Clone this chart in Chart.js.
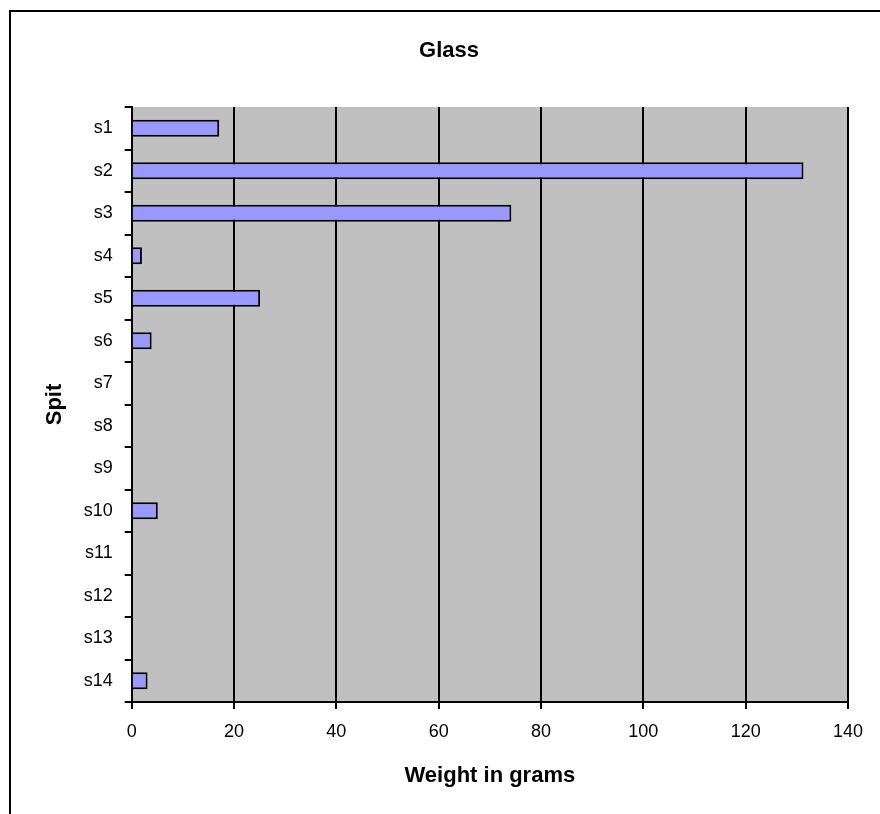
<!DOCTYPE html>
<html>
<head>
<meta charset="utf-8">
<script src="https://cdn.jsdelivr.net/npm/chart.js@4/dist/chart.umd.min.js"></script>
<style>
html,body{margin:0;padding:0;background:#fff;}
#wrap{position:relative;width:880px;height:814px;}
</style>
</head>
<body>
<div id="wrap"><canvas id="c" width="880" height="814"></canvas></div>
<script>
const categories = ["s1","s2","s3","s4","s5","s6","s7","s8","s9","s10","s11","s12","s13","s14"];
const weights = [17.1, 131.3, 74.2, 2, 25.1, 3.9, null, null, null, 5.1, null, null, null, 3.1];
const xTicks = [0, 20, 40, 60, 80, 100, 120, 140];
const chartTitle = "Glass";
const xTitle = "Weight in grams";
const yTitle = "Spit";

const FONT = "'Liberation Sans', Arial, sans-serif";

const framePlugin = {
  id: 'frame',
  beforeDraw(chart) {
    const ctx = chart.ctx;
    const a = chart.chartArea;
    ctx.save();
    ctx.fillStyle = '#fff';
    ctx.fillRect(0, 0, chart.width, chart.height);
    ctx.strokeStyle = '#000';
    ctx.lineWidth = 2;
    ctx.strokeRect(10, 11, 900, 900);
    ctx.fillStyle = '#C0C0C0';
    ctx.fillRect(a.left, a.top, a.right - a.left, a.bottom - a.top);
    ctx.restore();
  },
  afterDraw(chart) {
    const ctx = chart.ctx;
    ctx.save();
    ctx.fillStyle = '#000';
    ctx.font = "bold 22px " + FONT;
    ctx.textAlign = 'center';
    ctx.textBaseline = 'alphabetic';
    ctx.fillText(chartTitle, 449, 56.5);
    ctx.restore();
  }
};

new Chart(document.getElementById('c'), {
  type: 'bar',
  data: {
    labels: categories,
    datasets: [{
      data: weights,
      backgroundColor: '#9999FF',
      borderColor: '#000',
      borderWidth: 2,
      barPercentage: 0.4,
      categoryPercentage: 1.0
    }]
  },
  options: {
    indexAxis: 'y',
    responsive: false,
    animation: false,
    layout: { padding: { top: 107, right: 32, bottom: 0, left: 0 } },
    plugins: {
      legend: { display: false },
      tooltip: { enabled: false },
      title: { display: false }
    },
    scales: {
      x: {
        min: 0, max: 140,
        afterBuildTicks(scale) { scale.ticks = xTicks.map(v => ({ value: v })); },
        afterFit(scale) { scale.height = 112; },
        grid: {
          color: '#000', lineWidth: 2, tickLength: 7, drawOnChartArea: true
        },
        border: { color: '#000', width: 2 },
        ticks: {
          color: '#000', padding: 12,
          font: { family: FONT, size: 18 }
        },
        title: {
          display: true, text: xTitle, color: '#000',
          font: { family: FONT, size: 22, weight: 'bold' },
          padding: { top: 0, bottom: 24.5 }
        }
      },
      y: {
        afterFit(scale) { scale.width = 131.7; },
        grid: {
          offset: true, color: '#000', lineWidth: 2, tickLength: 7, drawOnChartArea: false
        },
        border: { color: '#000', width: 2 },
        ticks: {
          color: '#000', padding: 12,
          font: { family: FONT, size: 18 }
        },
        title: {
          display: true, text: yTitle, color: '#000',
          font: { family: FONT, size: 22, weight: 'bold' },
          padding: { top: 42, bottom: 0 }
        }
      }
    }
  },
  plugins: [framePlugin]
});
</script>
</body>
</html>
